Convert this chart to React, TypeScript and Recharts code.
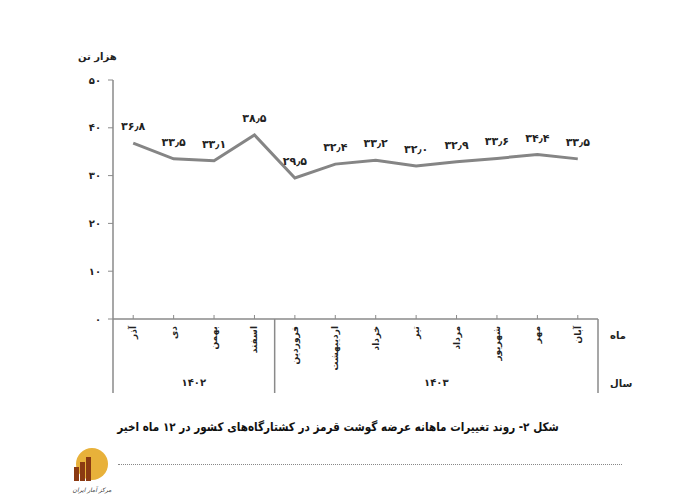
import { LineChart, Line, XAxis, YAxis, LabelList } from "recharts";

const MONTHS = ["آذر", "دی", "بهمن", "اسفند", "فروردین", "اردیبهشت", "خرداد", "تیر", "مرداد", "شهریور", "مهر", "آبان"];
const YEARS = ["۱۴۰۲", "۱۴۰۳"];
const YEAR_OF_MONTH = [0, 0, 0, 0, 1, 1, 1, 1, 1, 1, 1, 1];
const SUPPLY = [36.8, 33.5, 33.1, 38.5, 29.5, 32.4, 33.2, 32.0, 32.9, 33.6, 34.4, 33.5];
const Y_TICKS = [0, 10, 20, 30, 40, 50];

const W = 700;
const H = 503;
const LEFT = 113;
const RIGHT = 598;
const TOP = 80;
const BOTTOM = 319;
const BAND = (RIGHT - LEFT) / MONTHS.length;
const FONT = "'DejaVu Sans', sans-serif";
const AXIS = "#8a8a8a";

const toFa = (s: string | number) =>
  String(s).replace(/\d/g, (d) => "۰۱۲۳۴۵۶۷۸۹"[+d]).replace(".", "٫");

const data = MONTHS.map((m, i) => ({ month: m, value: SUPPLY[i], year: YEAR_OF_MONTH[i] }));

function MonthTick(props: any) {
  const { x, y, payload, index } = props;
  const g = YEAR_OF_MONTH[index];
  const first = YEAR_OF_MONTH.indexOf(g);
  const last = YEAR_OF_MONTH.lastIndexOf(g);
  const bottom = y + 74;
  return (
    <g>
      <line x1={x} x2={x} y1={y - 4} y2={y} stroke={AXIS} />
      <text
        x={x}
        y={y + 7}
        transform={`rotate(-90 ${x} ${y + 7})`}
        textAnchor="end"
        dominantBaseline="central"
        fontSize={9}
        fontWeight="bold"
        fontFamily={FONT}
        fill="#222"
      >
        {payload.value}
      </text>
      {index === 0 && <line x1={x - BAND / 2} x2={x - BAND / 2} y1={y} y2={bottom} stroke={AXIS} strokeWidth={1.5} />}
      {index === last && (
        <line x1={x + BAND / 2} x2={x + BAND / 2} y1={y} y2={bottom} stroke={AXIS} strokeWidth={1.5} />
      )}
      {index === first && (
        <text
          x={x + ((last - first) / 2) * BAND}
          y={y + 67}
          textAnchor="middle"
          fontSize={10}
          fontWeight="bold"
          fontFamily={FONT}
          fill="#222"
        >
          {YEARS[g]}
        </text>
      )}
      {index === MONTHS.length - 1 && (
        <g fontSize={10} fontFamily={FONT} fill="#222" fontWeight="bold">
          <text x={x + BAND / 2 + 12} y={y + 20} textAnchor="start">ماه</text>
          <text x={x + BAND / 2 + 12} y={y + 68} textAnchor="start">سال</text>
        </g>
      )}
    </g>
  );
}

function Logo() {
  return (
    <svg width={50} height={60} style={{ position: "absolute", left: 70, top: 440 }}>
      <circle cx={22} cy={24} r={16} fill="#e8b13a" />
      <rect x={4} y={27} width={5} height={14} fill="#8b3a12" />
      <rect x={10} y={22} width={5} height={19} fill="#8b3a12" />
      <rect x={16} y={17} width={5} height={24} fill="#8b3a12" />
      <text x={22} y={52} textAnchor="middle" fontSize={6} fontStyle="italic" fontFamily={FONT} fill="#333">
        مرکز آمار ایران
      </text>
    </svg>
  );
}

export default function App() {
  return (
    <div style={{ position: "absolute", left: 0, top: 0, width: W, height: H, background: "#fff" }}>
      <LineChart
        width={W}
        height={H}
        data={data}
        margin={{ top: TOP, right: W - RIGHT, bottom: H - BOTTOM - 30, left: LEFT - 30 }}
      >
        <XAxis
          dataKey="month"
          interval={0}
          height={30}
          tickLine={false}
          tickSize={0}
          tickMargin={0}
          padding={{ left: BAND / 2, right: BAND / 2 }}
          axisLine={{ stroke: AXIS, strokeWidth: 1.5 }}
          tick={<MonthTick />}
        />
        <YAxis
          width={30}
          domain={[0, 50]}
          ticks={Y_TICKS}
          interval={0}
          tickFormatter={(v: number) => toFa(v)}
          tickSize={5}
          tickMargin={7}
          axisLine={{ stroke: AXIS, strokeWidth: 1.5 }}
          tickLine={{ stroke: AXIS }}
          tick={{ fontSize: 10, fontFamily: FONT, fill: "#222", fontWeight: "bold" }}
        />
        <Line
          type="linear"
          dataKey="value"
          stroke="#858585"
          strokeWidth={3}
          dot={false}
          isAnimationActive={false}
        >
          <LabelList
            dataKey="value"
            position="top"
            offset={13}
            formatter={(v: any) => toFa(Number(v).toFixed(1))}
            style={{ fontSize: 11, fontFamily: FONT, fill: "#222", fontWeight: "bold" }}
          />
        </Line>
      </LineChart>
      <div
        style={{ position: "absolute", left: 78, top: 51, fontSize: 10, fontWeight: "bold", fontFamily: FONT, color: "#222" }}
      >
        هزار تن
      </div>
      <div
        style={{
          position: "absolute",
          left: -12,
          width: W,
          top: 420,
          textAlign: "center",
          fontSize: 12,
          fontWeight: "bold",
          fontFamily: FONT,
          color: "#111",
          direction: "rtl",
          transform: "scaleX(0.87)",
        }}
      >
        شکل ۲- روند تغییرات ماهانه عرضه گوشت قرمز در کشتارگاه‌های کشور در ۱۲ ماه اخیر
      </div>
      <div style={{ position: "absolute", left: 118, width: 504, top: 464, borderTop: "1px dotted #888" }} />
      <Logo />
    </div>
  );
}
